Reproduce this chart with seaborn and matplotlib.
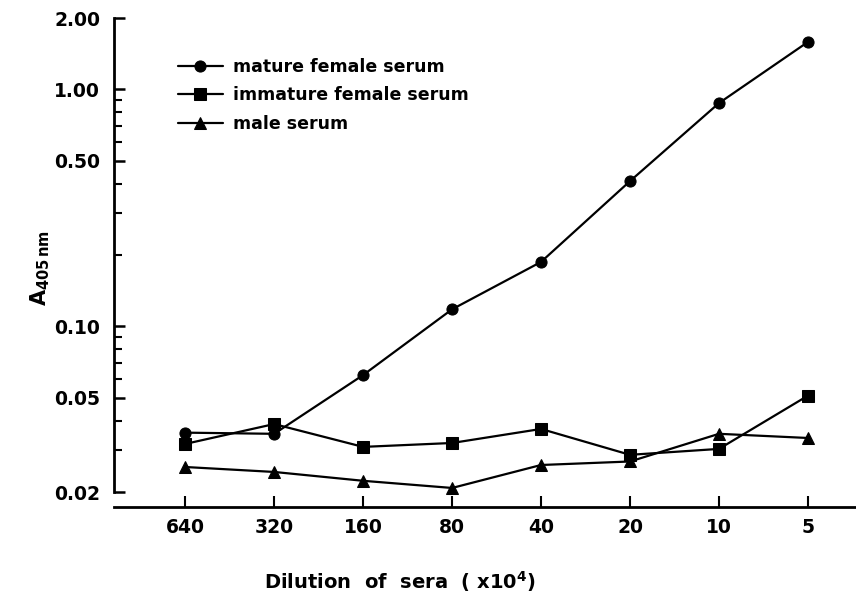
import numpy as np
import pandas as pd
import matplotlib
matplotlib.use("Agg")
import matplotlib.pyplot as plt
import matplotlib.ticker as mticker
import seaborn as sns

# dilution of sera (x10^4), in plotted order
dilutions = ["640", "320", "160", "80", "40", "20", "10", "5"]

# absorbance at 405 nm
mature_female = [0.0356, 0.0352, 0.0623, 0.118, 0.187, 0.410, 0.875, 1.585]
immature_female = [0.0319, 0.0387, 0.0310, 0.0322, 0.0369, 0.0287, 0.0304, 0.0510]
male = [0.0255, 0.0243, 0.0223, 0.0208, 0.0260, 0.0269, 0.0352, 0.0338]

series_names = ["mature female serum", "immature female serum", "male serum"]
y_major = [0.02, 0.05, 0.10, 0.50, 1.00, 2.00]
y_minor = [0.03, 0.04, 0.06, 0.07, 0.08, 0.09, 0.2, 0.3, 0.4, 0.6, 0.7, 0.8, 0.9]

df = pd.DataFrame({
    "dilution": dilutions * 3,
    "A405": mature_female + immature_female + male,
    "serum": np.repeat(series_names, len(dilutions)),
})

sns.set_style("white")
plt.rcParams["font.family"] = ["DejaVu Sans"]
plt.rcParams["mathtext.fontset"] = "dejavusans"
plt.rcParams["text.color"] = "black"
plt.rcParams["axes.labelcolor"] = "black"
plt.rcParams["xtick.color"] = "black"
plt.rcParams["ytick.color"] = "black"

fig = plt.figure(figsize=(8.56, 5.98), dpi=100)
ax = fig.add_axes([114 / 856, 1 - 492 / 598, 1 - 114 / 856, (492 - 18) / 598])

sns.lineplot(data=df, x="dilution", y="A405", style="serum", sort=False,
             markers={"mature female serum": "o", "immature female serum": "s",
                      "male serum": "^"},
             dashes=False, color="black", linewidth=1.6, markersize=8,
             markeredgecolor="black", ax=ax, clip_on=False)

ax.set_yscale("log")
ax.set_ylim(0.02, 2.0)
ax.set_xlim(-0.8, 7.54)
ax.yaxis.set_major_locator(mticker.FixedLocator(y_major))
ax.yaxis.set_minor_locator(mticker.FixedLocator(y_minor))
ax.yaxis.set_major_formatter(mticker.FixedFormatter([f"{v:.2f}" for v in y_major]))
ax.yaxis.set_minor_formatter(mticker.NullFormatter())

sns.despine(ax=ax)
ax.spines["bottom"].set_position(("outward", 11))
for s in ["left", "bottom"]:
    ax.spines[s].set_linewidth(2)
    ax.spines[s].set_color("black")

ax.tick_params(axis="y", which="major", direction="in", length=8, width=1.8,
               pad=10, labelsize=13.5, left=True)
ax.tick_params(axis="y", which="minor", direction="in", length=6, width=1.5, left=True)
ax.tick_params(axis="x", direction="in", length=8, width=1.5, pad=8,
               labelsize=13.5, bottom=True)
for lab in ax.get_xticklabels() + ax.get_yticklabels():
    lab.set_fontweight("bold")

ax.set_xlabel("Dilution  of  sera  ( x10$^{\\mathbf{4}}$)", fontsize=14,
              fontweight="bold", va="center")
ax.xaxis.set_label_coords((400 - 114) / 742, 1 - (582 - 18) / 474)
ax.set_ylabel(r"$\mathbf{A}_{\mathbf{405\,nm}}$", fontsize=15, va="center")
ax.yaxis.set_label_coords((40 - 114) / 742, 1 - (268 - 18) / 474)

ax.legend(frameon=False, loc="upper left", bbox_to_anchor=(169 / 856, 1 - 49 / 598),
          bbox_transform=fig.transFigure, borderpad=0, handlelength=2.6,
          handletextpad=0.6, labelspacing=0.62,
          prop={"size": 12.5, "weight": "bold"})

fig.savefig("out.png", dpi=100)
